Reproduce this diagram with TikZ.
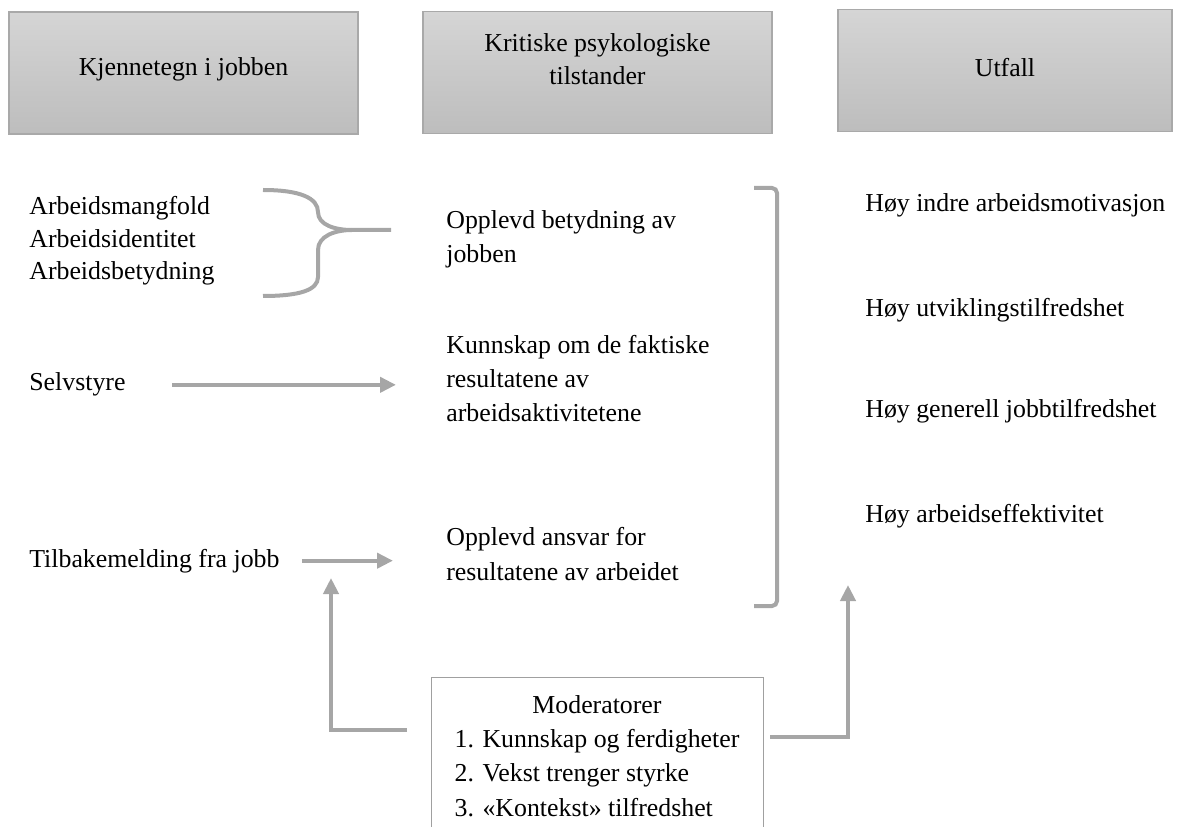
\documentclass[tikz,border=0pt]{standalone}
\usepackage{fontspec}
\setmainfont{Liberation Serif}
\usepackage{tikz}
\usetikzlibrary{arrows.meta,calc}
\definecolor{boxtop}{HTML}{D5D5D5}
\definecolor{boxbot}{HTML}{BDBDBD}
\definecolor{boxline}{HTML}{A9A9A9}
\definecolor{linegray}{HTML}{A6A6A6}
\definecolor{modline}{HTML}{A0A0A0}

\begin{document}
\begin{tikzpicture}
	[
	 x = 0.2mm,
	 y = -0.2mm,
	 every node/.style = {font=\fontsize{14.7}{18.7}\selectfont,
	                      inner sep = 0pt
	                     },
	 Head/.style = {draw = boxline,
	                line width = 0.3mm,
	                top color = boxtop,
	                bottom color = boxbot,
	                minimum width = 69.8mm,
	                minimum height = 24.4mm},
	 HL/.style  = {align=center},
	 Txt/.style = {anchor=base west, align=left},
	 Mid/.style = {Txt, font=\fontsize{14.7}{19.6}\selectfont},
	 Conn/.style = {draw=linegray, line width=0.8mm,
	                -{Triangle[length=3.2mm,width=3mm]}},
	 Brk/.style = {draw=linegray, line width=0.8mm}
	]

	\newcommand{\KRP}{Kritiske psykologiske\\tilstander}
	\newcommand{\KFR}{Kunnskap om de faktiske\\resultatene av\\arbeidsaktivitetene}
	\newcommand{\MDR}{\begin{tabular}{@{}l@{}}
	                  \multicolumn{1}{@{}c@{}}{Moderatorer}\\
	                  1. Kunnskap og ferdigheter\\
	                  2. Vekst trenger styrke\\
	                  3. «Kontekst» tilfredshet
	                  \end{tabular}}

	\useasboundingbox (0,0) rectangle (1179,827);

	% headers
	\node[Head, label={[HL, yshift=0.8mm]center:Kjennetegn i jobben}] (kjen) at (183.5,73) {};
	\node[Head, label={[HL, yshift=2.6mm]center:\KRP}] (krit) at (597.5,72.5) {};
	\node[Head, minimum width=66.8mm, label={[HL, yshift=0.6mm]center:Utfall}] (utf) at (1005,70.5) {};

	% job characteristics (multi-line nodes sit on their last baseline)
	\node[Txt] (amf)  at (29,280) {Arbeidsmangfold\\Arbeidsidentitet\\Arbeidsbetydning};
	\node[Txt] (selv) at (29,391) {Selvstyre};
	\node[Txt] (tilb) at (29,567) {Tilbakemelding fra jobb};

	% psychological states
	\node[Mid] (oppb) at (446,263) {Opplevd betydning av\\jobben};
	\node[Mid] (kunn) at (446,422) {\KFR};
	\node[Mid] (ansv) at (446,580) {Opplevd ansvar for\\resultatene av arbeidet};

	% outcomes
	\node[Txt] (hiam) at (865,212) {Høy indre arbeidsmotivasjon};
	\node[Txt] (hut)  at (865,317) {Høy utviklingstilfredshet};
	\node[Txt] (hgj)  at (865,418) {Høy generell jobbtilfredshet};
	\node[Txt] (hae)  at (865,522) {Høy arbeidseffektivitet};

	% moderators
	\node[draw=modline, line width=0.2mm, minimum width=66.4mm, minimum height=32.4mm,
	      font=\fontsize{14.7}{19.5}\selectfont] (mod) at (597,758) {\MDR};

	% brace
	\coordinate (bt) at (391,230);
	\draw[Brk] (263,190) .. controls (300,190) and (318,198) .. (318,212)
	           .. controls (318,225) and (335,230) .. (352,230) -- (bt);
	\draw[Brk] (263,296) .. controls (300,296) and (318,290) .. (318,277)
	           -- (318,250) .. controls (318,236) and (335,230) .. (352,230);

	% bracket
	\draw[Brk, rounded corners=1mm] (754,188) -- (777,188) -- (777,606) -- (754,606);

	% arrows
	\draw[Conn, shorten <=9.3mm, shorten >=10mm] (selv.east) -- (selv.east -| kunn.west);
	\draw[Conn, shorten <=4.4mm, shorten >=10.6mm] (tilb.east) -- (tilb.east -| ansv.west);

	\coordinate (mL)  at (407,730);
	\coordinate (mLt) at (331,578);
	\coordinate (mR)  at (770,737);
	\coordinate (mRt) at (848,585);
	\draw[Conn] (mL) -| (mLt);
	\draw[Conn] (mR) -| (mRt);
\end{tikzpicture}
\end{document}
